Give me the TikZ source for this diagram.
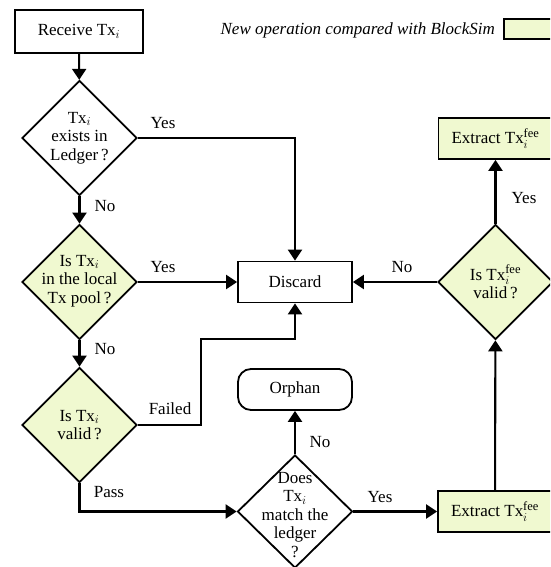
\documentclass[tikz,border=0pt]{standalone}
\usepackage{fontspec}
\setmainfont{Liberation Serif}
\DeclareMathSizes{17}{17}{12.5}{10}
\usetikzlibrary{shapes.geometric,arrows.meta}
\definecolor{newop}{RGB}{240,249,208}
\begin{document}
\begin{tikzpicture}[x=1pt,y=-1pt,
  every node/.style={font=\fontsize{17}{18.5}\selectfont},
  box/.style={draw,line width=1.8pt,minimum width=114pt,minimum height=41pt,inner sep=0pt},
  newbox/.style={box,fill=newop},
  decision/.style={diamond,draw,line width=1.8pt,minimum width=115pt,minimum height=115pt,inner sep=0pt},
  newdecision/.style={decision,fill=newop},
  flow/.style={line width=2.1pt,-{Triangle[length=11pt,width=14pt]}},
  lbl/.style={inner sep=0pt},
  dtext/.style={align=center,inner sep=0pt}]
\useasboundingbox (0,0) rectangle (550,567);
\clip (0,0) rectangle (550,567);

% legend
\node[anchor=east,font=\fontsize{17}{18.5}\selectfont\itshape,inner sep=0pt] (legtext) at (495,30) {New operation compared with BlockSim};
\node[newbox,minimum width=60pt,minimum height=20pt,anchor=west] (legbox) at (503,29) {};

% nodes
\node[box,minimum width=128pt,minimum height=43pt] (recv) at (79,31.5) {Receive Tx$_i$};
\node[decision] (d1) at (79.5,138) {};
\node[dtext] (d1t) at (79.5,138) {Tx$_i$\\exists in\\Ledger\,?};
\node[newdecision] (d2) at (79.5,282) {};
\node[dtext] (d2t) at (79.5,281) {Is Tx$_i$\\in the local\\Tx pool\,?};
\node[newdecision] (d3) at (79.5,425) {};
\node[dtext] (d3t) at (79.5,425) {Is Tx$_i$\\valid\,?};
\node[box] (discard) at (295,282) {Discard};
\node[box,rounded corners=13pt] (orphan) at (295,389.5) {Orphan};
\node[decision,minimum height=113pt] (d4) at (295,511.5) {};
\node[dtext] (d4t) at (295,515) {Does\\Tx$_i$\\match the\\ledger\\?};
\node[newbox] (ext1) at (495,511.5) {Extract Tx$^{\mathrm{fee}}_i$};
\node[newdecision] (d5) at (495.5,282) {};
\node[dtext] (d5t) at (495.5,282) {Is Tx$^{\mathrm{fee}}_i$\\valid\,?};
\node[newbox] (ext2) at (495.5,138.5) {Extract Tx$^{\mathrm{fee}}_i$};

\coordinate (fail) at (201,339);

% connectors
\draw[flow] (recv) -- (d1);
\draw[flow] (d1.east) -| (discard.north);
\draw[flow] (d1) -- (d2);
\draw[flow] (d2) -- (discard);
\draw[flow] (d2) -- (d3);
\draw[flow] (d3.east) -| (fail) -| (discard.south);
\draw[flow] (d3.south) |- (d4.west);
\draw[flow] (d4) -- (orphan);
\draw[flow] (d4) -- (ext1);
\draw[flow] (ext1) -- (d5);
\draw[flow] (d5) -- (discard);
\draw[flow] (d5) -- (ext2);

% connector labels
\node[lbl] (l1) at (163,123) {Yes};
\node[lbl] (l2) at (105,206) {No};
\node[lbl] (l3) at (163,267) {Yes};
\node[lbl] (l4) at (105,349) {No};
\node[lbl] (l5) at (170,409) {Failed};
\node[lbl] (l6) at (109,492) {Pass};
\node[lbl] (l7) at (320,442) {No};
\node[lbl] (l8) at (380,497) {Yes};
\node[lbl] (l9) at (402,267) {No};
\node[lbl] (l10) at (524,198) {Yes};
\end{tikzpicture}
\end{document}
